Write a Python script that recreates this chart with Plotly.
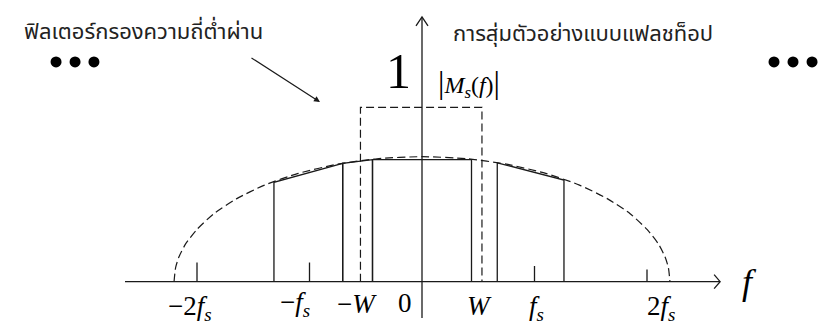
import plotly.graph_objects as go

# ---------------- data (x in units of fs, y in units of LPF gain) ----------------
tick_pos = [-2, -1, 1, 2]
tick_len = [0.11, 0.11, 0.09, 0.07]
tick_labels = ["−2<i>f<sub>s</sub></i>", "−<i>f<sub>s</sub></i>", "−<i>W</i>", "0",
               "<i>W</i>", "<i>f<sub>s</sub></i>", "2<i>f<sub>s</sub></i>"]
label_x = [-2.06, -1.13, -0.58, -0.15, 0.51, 1.02, 2.12]
label_y = [-0.15, -0.125, -0.125, -0.12, -0.14, -0.15, -0.15]

env_x = [-2.204, -2.19, -2.16, -2.1, -2.0, -1.85, -1.65, -1.4, -1.1, -0.75, -0.4, 0.0,
         0.4, 0.75, 1.1, 1.4, 1.65, 1.85, 2.0, 2.1, 2.16, 2.19, 2.204]
env_y = [0.0, 0.081, 0.143, 0.218, 0.30, 0.39, 0.475, 0.554, 0.621, 0.674, 0.705, 0.717,
         0.705, 0.674, 0.621, 0.554, 0.475, 0.39, 0.30, 0.218, 0.143, 0.081, 0.0]

pulse_left = [-1.316, -0.705, -0.44, 0.669]
pulse_right = [-0.705, -0.44, 0.44, 1.262]
pulse_top_left = [0.57, 0.679, 0.70, 0.682]
pulse_top_right = [0.679, 0.70, 0.70, 0.583]

lpf_left, lpf_right, lpf_gain = -0.547, 0.533, 1.0

x_axis = [-2.64, 2.65]
y_axis = [-0.208, 1.518]

dots_left = [-3.253, -3.084, -2.916]
dots_right = [3.129, 3.298, 3.467]
dots_y = 1.26

title_left = "ฟิลเตอร์กรองความถี่ต่ำผ่าน"
title_right = "การสุ่มตัวอย่างแบบแฟลชท็อป"

# ---------------- figure ----------------
LINE = "#1a1a1a"
fig = go.Figure()

# envelope (dashed)
fig.add_trace(go.Scatter(x=env_x, y=env_y, mode="lines",
                         line=dict(color=LINE, width=1.2, dash="8px,4px", shape="spline", smoothing=0.6),
                         hoverinfo="skip"))

# flat-top pulses
for xl, xr, yl, yr in zip(pulse_left, pulse_right, pulse_top_left, pulse_top_right):
    fig.add_trace(go.Scatter(x=[xl, xl, xr, xr], y=[0, yl, yr, 0], mode="lines",
                             line=dict(color=LINE, width=1.3), hoverinfo="skip"))

# ideal LPF (dashed box)
fig.add_trace(go.Scatter(x=[lpf_left, lpf_left, lpf_right, lpf_right], y=[0, lpf_gain, lpf_gain, 0],
                         mode="lines", line=dict(color=LINE, width=1.2, dash="8px,4px"), hoverinfo="skip"))

# ticks
for tx, tl in zip(tick_pos, tick_len):
    fig.add_trace(go.Scatter(x=[tx, tx], y=[0, tl], mode="lines",
                             line=dict(color=LINE, width=1.3), hoverinfo="skip"))

# axes
fig.add_trace(go.Scatter(x=x_axis, y=[0, 0], mode="lines", line=dict(color=LINE, width=1.3), hoverinfo="skip"))
fig.add_trace(go.Scatter(x=[0, 0], y=y_axis, mode="lines", line=dict(color=LINE, width=1.3), hoverinfo="skip"))
# arrow heads (open chevrons)
hx, hy = 6 / 112.5, 7 / 174.4
fig.add_trace(go.Scatter(x=[x_axis[1] - hx, x_axis[1], x_axis[1] - hx], y=[hy, 0, -hy], mode="lines",
                         line=dict(color=LINE, width=1.3), hoverinfo="skip"))
vx, vy = 6 / 112.5, 9 / 174.4
fig.add_trace(go.Scatter(x=[-vx, 0, vx], y=[y_axis[1] - vy, y_axis[1], y_axis[1] - vy], mode="lines",
                         line=dict(color=LINE, width=1.3), hoverinfo="skip"))

# ellipsis dots
fig.add_trace(go.Scatter(x=dots_left + dots_right, y=[dots_y] * 6, mode="markers",
                         marker=dict(color="black", size=11), hoverinfo="skip"))

SERIF = "Liberation Serif, Times New Roman, serif"
THAI = "Noto Sans Thai, Tahoma, DejaVu Sans, sans-serif"
ann = []
for t, lx, ly in zip(tick_labels, label_x, label_y):
    ann.append(dict(x=lx, y=ly, text=t, showarrow=False, font=dict(family=SERIF, size=27, color="black"),
                    xanchor="center", yanchor="middle"))
ann.append(dict(x=2.91, y=0.0, text="<i>f</i>", showarrow=False,
                font=dict(family=SERIF, size=36, color="black"), xanchor="center", yanchor="middle"))
ann.append(dict(x=-0.21, y=1.21, text="1", showarrow=False,
                font=dict(family=SERIF, size=50, color="black"), xanchor="center", yanchor="middle"))
ann.append(dict(x=0.125, y=1.14,
                text="<span style='font-size:32px'>|</span><i>M<sub>s</sub></i>(<i>f</i>)<span style='font-size:32px'>|</span>",
                showarrow=False, font=dict(family=SERIF, size=24, color="black"), xanchor="left", yanchor="middle"))
ann.append(dict(x=1.43, y=1.415, text=title_right, showarrow=False,
                font=dict(family=THAI, size=22, color="#222"), xanchor="center", yanchor="middle"))
ann.append(dict(x=-2.48, y=1.43, text=title_left, showarrow=False,
                font=dict(family=THAI, size=22, color="#222"), xanchor="center", yanchor="middle"))
# arrow pointing at the LPF
ann.append(dict(x=(320 - 422) / 112.5, y=(281.7 - 102) / 174.4, ax=(250 - 422) / 112.5, ay=(281.7 - 57) / 174.4,
                axref="x", ayref="y", xref="x", yref="y", text="", showarrow=True,
                arrowhead=2, arrowsize=1, arrowwidth=1.2, arrowcolor=LINE))

fig.update_layout(
    width=820, height=331, margin=dict(l=0, r=0, t=0, b=0),
    paper_bgcolor="white", plot_bgcolor="white", showlegend=False,
    xaxis=dict(range=[-422 / 112.5, 398 / 112.5], visible=False, fixedrange=True),
    yaxis=dict(range=[-49.3 / 174.4, 281.7 / 174.4], visible=False, fixedrange=True),
    annotations=ann,
)
fig.write_html("out.html", config={"displayModeBar": False},
               post_script="document.body.style.margin='0';document.body.style.overflow='hidden';")
